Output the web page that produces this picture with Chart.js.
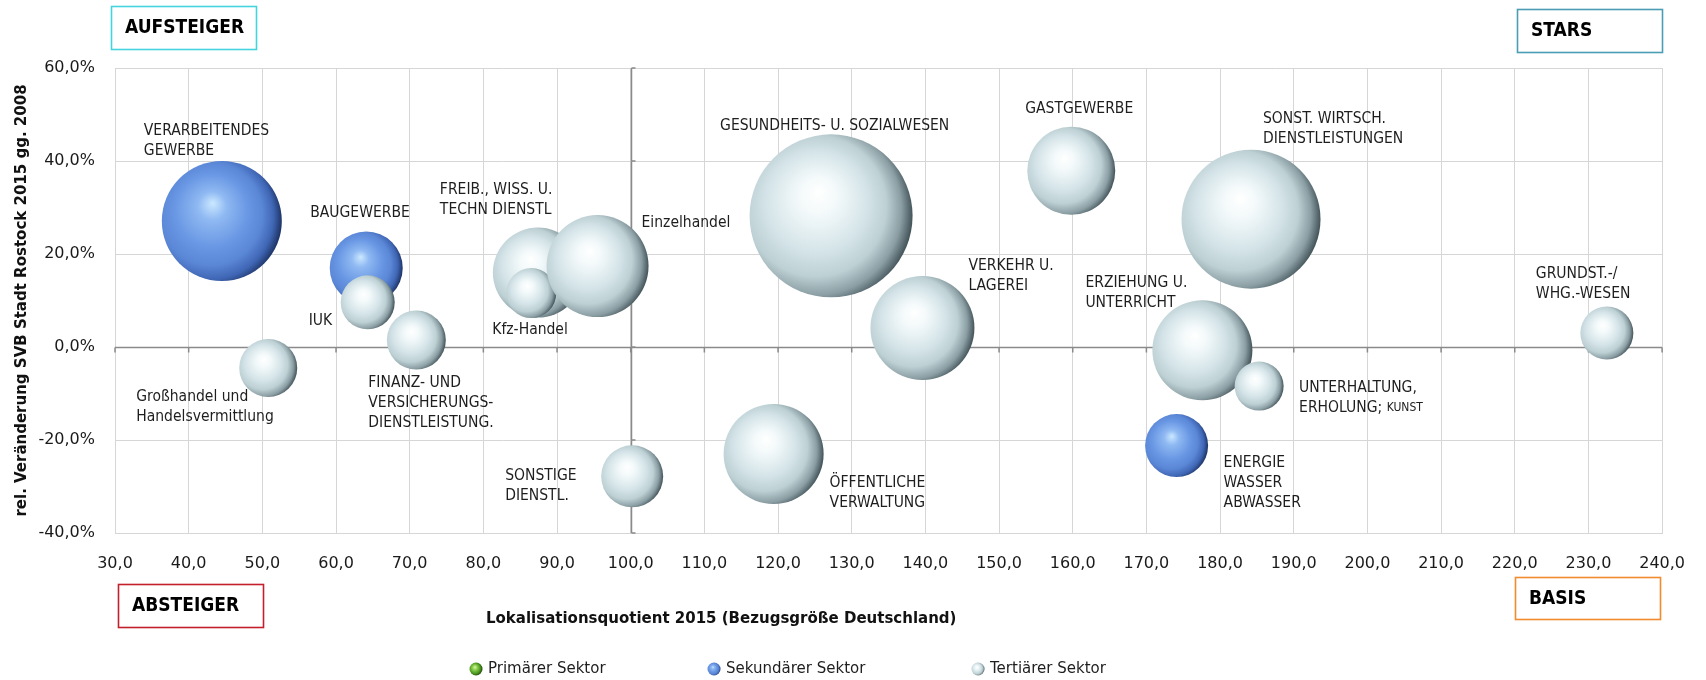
<!DOCTYPE html>
<html lang="de">
<head>
<meta charset="utf-8">
<title>Branchenportfolio Rostock</title>
<script src="https://cdn.jsdelivr.net/npm/chart.js@4.4.1/dist/chart.umd.min.js"></script>
<style>
  html, body { margin: 0; padding: 0; background: #fff; }
  #wrap { position: relative; width: 1706px; height: 680px; }
</style>
</head>
<body>
<div id="wrap"><canvas id="chart"></canvas></div>
<script>
// Achsen
const xTicks = [30, 40, 50, 60, 70, 80, 90, 100, 110, 120, 130, 140, 150, 160, 170, 180, 190, 200, 210, 220, 230, 240];
const yTicks = [-40, -20, 0, 20, 40, 60];

// Sekundärer Sektor
const sekNamen = [['VERARBEITENDES', 'GEWERBE'], ['BAUGEWERBE'], ['ENERGIE', 'WASSER', 'ABWASSER']];
const sekLQ = [44.5, 64.1, 174.1];
const sekVeraenderung = [27.1, 17.0, -21.2];
const sekGroesse = [60, 36.5, 31.5];

// Tertiärer Sektor (Reihenfolge = Zeichenreihenfolge)
const terNamen = [
  ['Großhandel und', 'Handelsvermittlung'], ['IUK'], ['FINANZ- UND', 'VERSICHERUNGS-', 'DIENSTLEISTUNG.'],
  ['FREIB., WISS. U.', 'TECHN DIENSTL'], ['Kfz-Handel'], ['Einzelhandel'], ['SONSTIGE', 'DIENSTL.'],
  ['ÖFFENTLICHE', 'VERWALTUNG'], ['GESUNDHEITS- U. SOZIALWESEN'], ['VERKEHR U.', 'LAGEREI'],
  ['GASTGEWERBE'], ['ERZIEHUNG U.', 'UNTERRICHT'], ['UNTERHALTUNG,', 'ERHOLUNG; {KUNST}'],
  ['SONST. WIRTSCH.', 'DIENSTLEISTUNGEN'], ['GRUNDST.-/', 'WHG.-WESEN']
];
const terLQ = [50.8, 64.3, 70.9, 87.4, 86.5, 95.5, 100.2, 119.4, 127.2, 139.6, 159.8, 177.6, 185.3, 184.2, 232.5];
const terVeraenderung = [-4.5, 9.6, 1.5, 16.0, 11.6, 17.4, -27.8, -23.0, 28.2, 4.1, 37.9, -0.7, -8.4, 27.5, 3.0];
const terGroesse = [29, 27, 29.5, 45, 25, 51, 31, 50, 81.5, 52, 44, 50, 24.5, 69.5, 26.5];

// Lage der Beschriftungen relativ zur Blasenmitte (px)
const sekLabelPos = [[-78, -90], [-56, -55], [47, 17]];
const terLabelPos = [[-132, 29], [-59, 19], [-48, 43], [-98, -83], [-39, 37], [44, -43], [-127, 0],
  [56, 29], [-111, -90], [46, -62], [-46, -62], [-117, -67], [40, 2], [12, -100], [-71, -59]];

const punkte = (xs, ys, rs) => xs.map((x, i) => ({x: x, y: ys[i], r: rs[i]}));

const kugelFarben = {
  blau: ['#cbe8ff', '#8fb9f2', '#6a98e4', '#5a86d6', '#3f66b4', '#1e3466'],
  grau: ['#ffffff', '#f3f9fa', '#d6e5e9', '#bdd0d4', '#8a9ea3', '#44555a'],
  gruen: ['#e0f7bd', '#a6de66', '#6ab634', '#4a921f', '#2f6412', '#204a0b']
};

function kugel(g, x, y, r, f) {
  const grd = g.createRadialGradient(x - 0.15 * r, y - 0.3 * r, 0, x - 0.2 * r, y - 0.05 * r, 1.2 * r);
  grd.addColorStop(0, f[0]);
  grd.addColorStop(0.2, f[1]);
  grd.addColorStop(0.5, f[2]);
  grd.addColorStop(0.72, f[3]);
  grd.addColorStop(0.88, f[4]);
  grd.addColorStop(1, f[5]);
  return grd;
}

function kugelFill(farbe) {
  return function (ctx) {
    const chart = ctx.chart;
    const p = ctx.raw;
    if (!p || !chart.chartArea) return kugelFarben[farbe][2];
    const x = chart.scales.x.getPixelForValue(p.x);
    const y = chart.scales.y.getPixelForValue(p.y);
    return kugel(chart.ctx, x, y, p.r, kugelFarben[farbe]);
  };
}

const labelFont = '15.5px "DejaVu Sans Condensed"';
const labelFontKlein = '12px "DejaVu Sans Condensed"';

const beschriftung = {
  id: 'beschriftung',
  afterDatasetsDraw(chart) {
    const g = chart.ctx;
    g.save();
    g.fillStyle = '#1e1e1e';
    g.textBaseline = 'middle';
    g.textAlign = 'left';
    const sets = [[1, sekNamen, sekLabelPos], [2, terNamen, terLabelPos]];
    sets.forEach(([di, namen, pos]) => {
      const meta = chart.getDatasetMeta(di);
      meta.data.forEach((el, i) => {
        const lx = el.x + pos[i][0];
        const ly = el.y + pos[i][1];
        namen[i].forEach((zeile, z) => {
          const y = ly + z * 20;
          const teile = zeile.split(/[{}]/);
          let x = lx;
          teile.forEach((t, k) => {
            g.font = k % 2 ? labelFontKlein : labelFont;
            g.fillText(t, x, y);
            x += g.measureText(t).width;
          });
        });
      });
    });
    g.restore();
  }
};

const achsenKreuz = {
  id: 'achsenKreuz',
  beforeDatasetsDraw(chart) {
    const {ctx: g, chartArea: a, scales: {x, y}} = chart;
    const px = Math.round(x.getPixelForValue(100)) + 0.5;
    const py = Math.round(y.getPixelForValue(0)) + 0.5;
    g.save();
    g.strokeStyle = '#8a8a8a';
    g.lineWidth = 1.5;
    g.beginPath();
    g.moveTo(px, a.top); g.lineTo(px, a.bottom);
    g.moveTo(a.left, py); g.lineTo(a.right, py);
    yTicks.forEach(v => { const t = y.getPixelForValue(v); g.moveTo(px, t); g.lineTo(px + 4, t); });
    xTicks.forEach(v => { const t = x.getPixelForValue(v); g.moveTo(t, py); g.lineTo(t, py + 5); });
    g.stroke();
    g.restore();
  }
};

const kaesten = [
  {text: 'AUFSTEIGER', x: 111, y: 6, w: 145, h: 43, farbe: '#45d3e0'},
  {text: 'STARS', x: 1517, y: 9, w: 145, h: 43, farbe: '#4b9db4'},
  {text: 'ABSTEIGER', x: 118, y: 584, w: 145, h: 43, farbe: '#c3202c'},
  {text: 'BASIS', x: 1515, y: 577, w: 145, h: 42, farbe: '#f28a2e'}
];

const legende = [
  {text: 'Primärer Sektor', farbe: 'gruen', x: 476},
  {text: 'Sekundärer Sektor', farbe: 'blau', x: 714},
  {text: 'Tertiärer Sektor', farbe: 'grau', x: 978}
];

const rahmen = {
  id: 'rahmen',
  afterDraw(chart) {
    const g = chart.ctx;
    g.save();
    kaesten.forEach(k => {
      g.strokeStyle = k.farbe;
      g.lineWidth = 1.6;
      g.strokeRect(k.x + 0.5, k.y + 0.5, k.w, k.h);
      g.fillStyle = '#000';
      g.font = 'bold 19px "DejaVu Sans Condensed"';
      g.textBaseline = 'middle';
      g.textAlign = 'left';
      g.fillText(k.text, k.x + 14, k.y + k.h / 2 + 1);
    });
    // x-Achsentitel
    g.font = 'bold 15px "DejaVu Sans"';
    g.textAlign = 'left';
    g.fillStyle = '#111';
    g.fillText('Lokalisationsquotient 2015 (Bezugsgröße Deutschland)', 486, 619);
    // Legende
    legende.forEach(l => {
      g.beginPath();
      g.arc(l.x, 669, 6.5, 0, Math.PI * 2);
      g.fillStyle = kugel(g, l.x, 669, 6.5, kugelFarben[l.farbe]);
      g.fill();
      g.fillStyle = '#1e1e1e';
      g.font = '15px "DejaVu Sans"';
      g.textAlign = 'left';
      g.fillText(l.text, l.x + 12, 669);
    });
    g.restore();
  }
};

const fmt = v => v.toFixed(1).replace('.', ',');

new Chart(document.getElementById('chart'), {
  type: 'bubble',
  data: {
    datasets: [
      {label: 'Primärer Sektor', data: [], backgroundColor: kugelFill('gruen'), order: 3},
      {label: 'Sekundärer Sektor', data: punkte(sekLQ, sekVeraenderung, sekGroesse),
        backgroundColor: kugelFill('blau'), borderWidth: 0, order: 2},
      {label: 'Tertiärer Sektor', data: punkte(terLQ, terVeraenderung, terGroesse),
        backgroundColor: kugelFill('grau'), borderWidth: 0, order: 1}
    ]
  },
  options: {
    responsive: true,
    maintainAspectRatio: false,
    animation: false,
    events: [],
    layout: {autoPadding: false, padding: {left: 0, right: 42, top: 68, bottom: 0}},
    plugins: {legend: {display: false}, tooltip: {enabled: false}},
    scales: {
      x: {
        type: 'linear', min: 30, max: 240,
        afterBuildTicks: s => { s.ticks = xTicks.map(v => ({value: v})); },
        afterFit: s => { s.height = 147; },
        grid: {color: '#d6d6d6', lineWidth: 1, drawTicks: false},
        border: {color: '#d6d6d6'},
        ticks: {padding: 21, autoSkip: false, maxRotation: 0, color: '#1a1a1a',
          font: {family: 'DejaVu Sans', size: 16}, callback: v => fmt(v)}
      },
      y: {
        type: 'linear', min: -40, max: 60,
        afterBuildTicks: s => { s.ticks = yTicks.map(v => ({value: v})); },
        afterFit: s => { s.width = 115; },
        grid: {color: '#d6d6d6', lineWidth: 1, drawTicks: false},
        border: {color: '#d6d6d6'},
        ticks: {padding: 20, color: '#1a1a1a', font: {family: 'DejaVu Sans', size: 16},
          callback: v => fmt(v) + '%'},
        title: {display: true, text: 'rel. Veränderung SVB Stadt Rostock 2015 gg. 2008',
          color: '#111', font: {family: 'DejaVu Sans', size: 15, weight: 'bold'},
          padding: {top: 13, bottom: 0}}
      }
    }
  },
  plugins: [achsenKreuz, beschriftung, rahmen]
});
</script>
</body>
</html>
